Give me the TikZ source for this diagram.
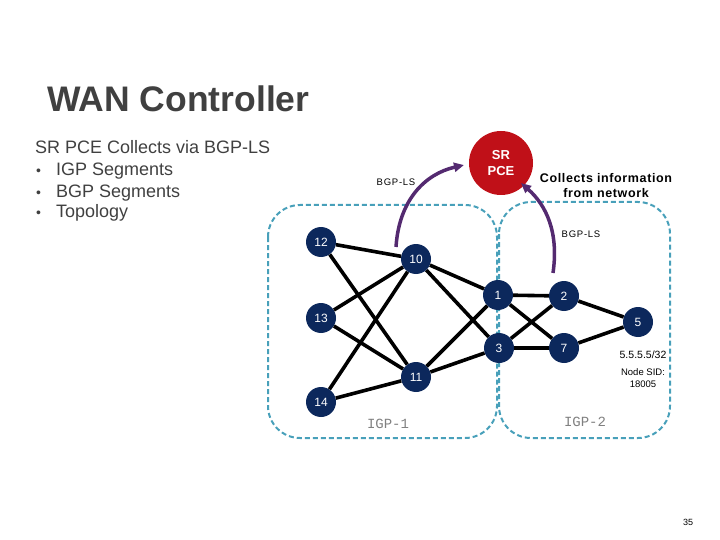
\documentclass[tikz,border=0pt]{standalone}
\usepackage{fontspec}
\setmainfont{Liberation Sans}
\newfontfamily\igpfont{Liberation Mono}
\usetikzlibrary{arrows.meta}

\definecolor{navy}{RGB}{12,40,92}
\definecolor{pcered}{RGB}{192,16,24}
\definecolor{lsviolet}{RGB}{84,42,112}
\definecolor{domainblue}{RGB}{72,160,186}
\definecolor{slidegray}{RGB}{64,64,64}

\begin{document}
\begin{tikzpicture}[
  x=1pt,y=-1pt,
  router/.style={circle,fill=navy,text=white,minimum size=30pt,inner sep=0pt,font=\fontsize{12}{12}\selectfont},
  link/.style={line width=3.6pt,black},
  igparea/.style={draw=domainblue,line width=2pt,dash pattern=on 5pt off 3pt,rounded corners=32pt},
  feed/.style={-{Triangle[length=10pt,width=9pt]},line width=3.5pt,lsviolet},
  slidetext/.style={anchor=base west,text=slidegray,inner sep=0pt,font=\fontsize{18}{18}\selectfont},
  small/.style={inner sep=0pt,align=center,font=\fontsize{9.5}{12}\selectfont}
]
  \useasboundingbox (0,0) rectangle (720,540);

  % title and bullet text
  \node[slidetext,font=\bfseries\fontsize{35.5}{35}\selectfont] (title) at (47,112) {WAN Controller};
  \node[slidetext] (intro) at (35,154) {SR PCE Collects via BGP-LS};
  \node[slidetext] (bull1) at (36,176) {{\fontsize{14}{14}\selectfont\textbullet}\hspace{15pt}IGP Segments};
  \node[slidetext] (bull2) at (36,197) {{\fontsize{14}{14}\selectfont\textbullet}\hspace{15pt}BGP Segments};
  \node[slidetext] (bull3) at (36,218) {{\fontsize{14}{14}\selectfont\textbullet}\hspace{15pt}Topology};

  % IGP domains
  \draw[igparea] (268,205) rectangle (497,438);
  \draw[igparea] (499,202) rectangle (670,438);
  \node[font=\igpfont\fontsize{14}{14}\selectfont,text=gray] (igp1) at (388,424) {IGP-1};
  \node[font=\igpfont\fontsize{14}{14}\selectfont,text=gray] (igp2) at (585,422) {IGP-2};

  % controller
  \node[circle,fill=pcered,minimum size=64pt,inner sep=0pt,text=white,align=center,
        font=\bfseries\fontsize{13}{16}\selectfont] (pce) at (501,163) {SR\\PCE};
  \node[align=center,inner sep=0pt,font=\bfseries\fontsize{12.5}{15}\selectfont\addfontfeature{LetterSpace=5}] (collects) at (606,186)
    {Collects information\\from network};

  % routers
  \node[router] (r12) at (321,242) {12};
  \node[router] (r13) at (321,318) {13};
  \node[router] (r14) at (321,402) {14};
  \node[router] (r10) at (416,259) {10};
  \node[router] (r11) at (416,377) {11};
  \node[router] (r1)  at (498,295) {1};
  \node[router] (r3)  at (499,348) {3};
  \node[router] (r2)  at (564,296) {2};
  \node[router] (r7)  at (564,348) {7};
  \node[router] (r5)  at (638,322) {5};

  \foreach \a/\b in {12/10,12/11,13/10,13/11,14/10,14/11,10/1,10/3,11/1,11/3,1/2,1/7,3/2,3/7,2/5,7/5}
    \draw[link] (r\a) -- (r\b);

  \node[small,font=\fontsize{10.5}{12}\selectfont] (prefix) at (643,355) {5.5.5.5/32};
  \node[small] (sid) at (643,378) {Node SID:\\18005};

  % BGP-LS feeds
  \coordinate (lsA) at (396,247);
  \coordinate (lsAtip) at (464,165);
  \coordinate (lsB) at (553,273);
  \coordinate (lsBtip) at (521,183);
  \draw[feed] (lsA) .. controls (399,200) and (425,174) .. (lsAtip);
  \draw[feed] (lsB) .. controls (559,232) and (546,205) .. (lsBtip);
  \node[small,font=\fontsize{9.5}{12}\selectfont\addfontfeature{LetterSpace=8}] (bgpls1) at (396,182) {BGP-LS};
  \node[small,font=\fontsize{9.5}{12}\selectfont\addfontfeature{LetterSpace=8}] (bgpls2) at (581,234) {BGP-LS};

  \node[font=\fontsize{9}{9}\selectfont] (page) at (688,522) {35};
\end{tikzpicture}
\end{document}
